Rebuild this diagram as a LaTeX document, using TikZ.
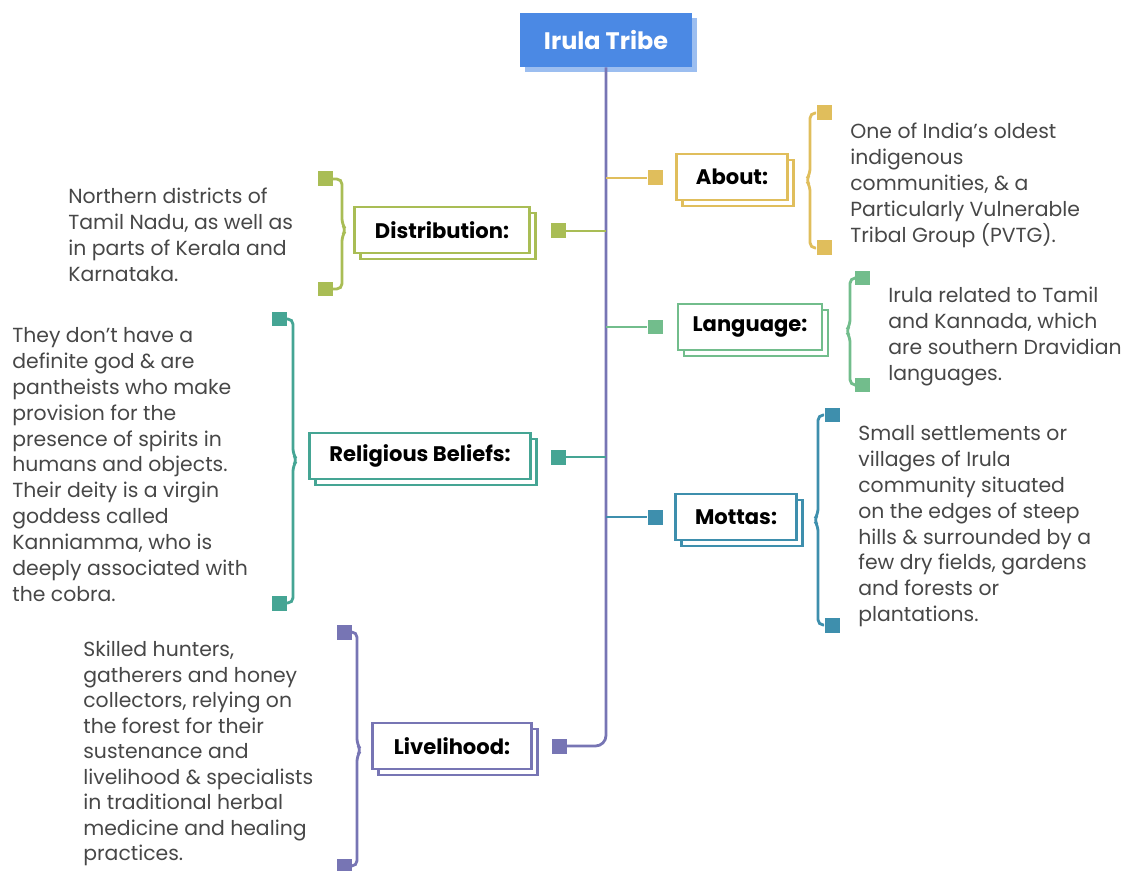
\documentclass[tikz,border=0pt]{standalone}
\usepackage{fontspec}
\setmainfont{Poppins}
\usetikzlibrary{shadows}

\definecolor{irblue}{HTML}{4B89E4}
\definecolor{irgold}{HTML}{E0BE5C}
\definecolor{irolive}{HTML}{A9BD55}
\definecolor{irgreen}{HTML}{72BD8C}
\definecolor{irteal}{HTML}{45A594}
\definecolor{irsea}{HTML}{3E8FAD}
\definecolor{irpurple}{HTML}{7775B4}
\definecolor{irtext}{HTML}{474747}

\begin{document}
\begin{tikzpicture}[x=0.02cm, y=-0.02cm,
	head/.style={fill=irblue, text=white, font=\bfseries\fontsize{13.6}{16}\selectfont,
		minimum width=3.44cm, minimum height=1.08cm,
		copy shadow={fill=irblue!55, draw=none, shadow xshift=2.8pt, shadow yshift=-2.8pt}},
	topic/.style={draw=#1, line width=1.6pt, fill=white, minimum height=0.92cm,
		font=\bfseries\fontsize{12}{14}\selectfont,
		copy shadow={draw=#1, fill=white, line width=1.6pt, shadow xshift=3.4pt, shadow yshift=-3.4pt}},
	tip/.style={fill=#1, minimum size=0.3cm, inner sep=0pt},
	link/.style={draw=#1, line width=1.6pt},
	note/.style={anchor=north west, inner sep=0pt, align=left, text=irtext,
		font=\fontsize{11.6}{14.74}\selectfont}]
	\useasboundingbox (0,0) rectangle (1125,871);

	% main node and trunk
	\node[head] (tribe) at (606,40) {Irula Tribe};
	\node[tip=irpurple] (lifesq) at (559,746) {};
	\draw[link=irpurple, rounded corners=6pt] (tribe.south) -- (tribe.south |- lifesq) -- (lifesq.east);

	% right side
	\node[tip=irgold] (aboutsq) at (655,178) {};
	\node[topic=irgold, minimum width=2.22cm] (about) at (732,177) {About:};
	\node[tip=irgold] (abouttop) at (824,113) {};
	\node[tip=irgold] (aboutbot) at (824,248) {};
	\draw[link=irgold] (tribe.south |- aboutsq) -- (aboutsq.west);
	\draw[link=irgold, rounded corners=3pt] (abouttop.west) -| (810,174) -- (806,180) -- (810,186) |- (aboutbot.west);
	\node[note] (abouttxt) at (850,123) {One of India’s oldest\\indigenous\\communities, \& a\\Particularly Vulnerable\\Tribal Group (PVTG).};

	\node[tip=irgreen] (langsq) at (655,327) {};
	\node[topic=irgreen, minimum width=2.88cm] (lang) at (750,327) {Language:};
	\node[tip=irgreen] (langtop) at (862,278) {};
	\node[tip=irgreen] (langbot) at (862,385) {};
	\draw[link=irgreen] (tribe.south |- langsq) -- (langsq.west);
	\draw[link=irgreen, rounded corners=3pt] (langtop.west) -| (850,325) -- (846,331) -- (850,337) |- (langbot.west);
	\node[note] (langtxt) at (888,287) {Irula related to Tamil\\and Kannada, which\\are southern Dravidian\\languages.};

	\node[tip=irsea] (mottasq) at (655,517) {};
	\node[topic=irsea, minimum width=2.42cm] (motta) at (736,517) {Mottas:};
	\node[tip=irsea] (mottatop) at (832,415) {};
	\node[tip=irsea] (mottabot) at (832,625) {};
	\draw[link=irsea] (tribe.south |- mottasq) -- (mottasq.west);
	\draw[link=irsea, rounded corners=3pt] (mottatop.west) -| (818,514) -- (814,520) -- (818,526) |- (mottabot.west);
	\node[note] (mottatxt) at (858,425) {Small settlements or\\villages of Irula\\community situated\\on the edges of steep\\hills \& surrounded by a\\few dry fields, gardens\\and forests or\\plantations.};

	% left side
	\node[tip=irolive] (distsq) at (558,231) {};
	\node[topic=irolive, minimum width=3.5cm] (dist) at (442,230) {Distribution:};
	\node[tip=irolive] (disttop) at (325,179) {};
	\node[tip=irolive] (distbot) at (325,289) {};
	\draw[link=irolive] (tribe.south |- distsq) -- (distsq.east);
	\draw[link=irolive, rounded corners=3pt] (disttop.east) -| (342,224) -- (346,230) -- (342,236) |- (distbot.east);
	\node[note] (disttxt) at (68,188) {Northern districts of\\Tamil Nadu, as well as\\in parts of Kerala and\\Karnataka.};

	\node[tip=irteal] (relisq) at (558,457) {};
	\node[topic=irteal, minimum width=4.42cm] (reli) at (420,456) {Religious Beliefs:};
	\node[tip=irteal] (relitop) at (279,319) {};
	\node[tip=irteal] (relibot) at (279,603) {};
	\draw[link=irteal] (tribe.south |- relisq) -- (relisq.east);
	\draw[link=irteal, rounded corners=3pt] (relitop.east) -| (293,454) -- (297,460) -- (293,466) |- (relibot.east);
	\node[note] (relitxt) at (12,327) {They don’t have a\\definite god \& are\\pantheists who make\\provision for the\\presence of spirits in\\humans and objects.\\Their deity is a virgin\\goddess called\\Kanniamma, who is\\deeply associated with\\the cobra.};

	\node[topic=irpurple, minimum width=3.18cm] (life) at (452,746) {Livelihood:};
	\node[tip=irpurple] (lifetop) at (344,632) {};
	\node[tip=irpurple] (lifebot) at (344,866) {};
	\draw[link=irpurple, rounded corners=3pt] (lifetop.east) -| (357,744) -- (361,750) -- (357,756) |- (lifebot.east);
	\node[note, font=\fontsize{11.6}{14.5}\selectfont] (lifetxt) at (83,641) {Skilled hunters,\\gatherers and honey\\collectors, relying on\\the forest for their\\sustenance and\\livelihood \& specialists\\in traditional herbal\\medicine and healing\\practices.};
\end{tikzpicture}
\end{document}
